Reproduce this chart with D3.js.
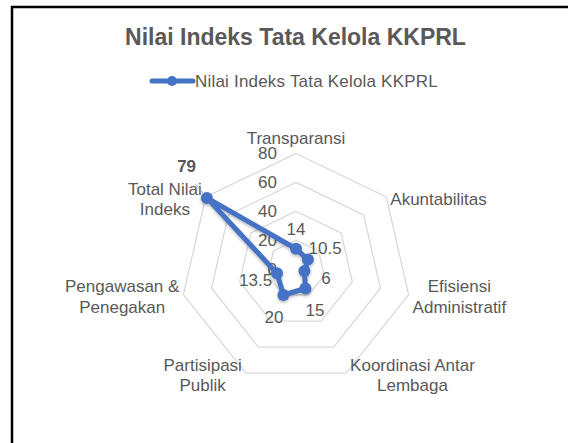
<!DOCTYPE html>
<html>
<head>
<meta charset="utf-8">
<script src="https://cdn.jsdelivr.net/npm/d3@7"></script>
<style>
  html, body { margin: 0; padding: 0; background: #fff; }
  svg text { font-family: "Liberation Sans", Arial, sans-serif; fill: #595959; }
</style>
</head>
<body>
<div id="chart"></div>
<script>
const chartTitle = "Nilai Indeks Tata Kelola KKPRL";
const seriesName = "Nilai Indeks Tata Kelola KKPRL";
const categories = [
  "Transparansi",
  "Akuntabilitas",
  "Efisiensi\nAdministratif",
  "Koordinasi Antar\nLembaga",
  "Partisipasi\nPublik",
  "Pengawasan &\nPenegakan",
  "Total Nilai\nIndeks"
];
const values = [14, 10.5, 6, 15, 20, 13.5, 79];
const tickValues = [0, 20, 40, 60, 80];

const width = 568, height = 443;
const cx = 296, cy = 269, R = 115.5;
const blue = "#4472C4";
const grid = "#d9d9d9";
const fontSize = 17;
const lineH = 20.5;

const svg = d3.select('#chart')
  .append('svg')
  .attr('width', width)
  .attr('height', height);

svg.append('rect')
  .attr('width', width).attr('height', height)
  .attr('fill', '#fff');

// frame around the chart (runs off right / bottom edge)
svg.append('rect')
  .attr('x', 12).attr('y', 7)
  .attr('width', 700).attr('height', 600)
  .attr('fill', 'none')
  .attr('stroke', '#000')
  .attr('stroke-width', 2.5);

const defs = svg.append('defs');
const shadow = defs.append('filter')
  .attr('id', 'shadow')
  .attr('x', '-20%').attr('y', '-20%')
  .attr('width', '140%').attr('height', '140%');
shadow.append('feDropShadow')
  .attr('dx', 0).attr('dy', 1.5)
  .attr('stdDeviation', 1.6)
  .attr('flood-color', '#000')
  .attr('flood-opacity', 0.3);

// title
svg.append('text')
  .attr('x', 295.5).attr('y', 45)
  .attr('text-anchor', 'middle')
  .style('font-size', '23px')
  .style('font-weight', 'bold')
  .text(chartTitle);

// legend
const legend = svg.append('g');
legend.append('line')
  .attr('x1', 152).attr('x2', 193)
  .attr('y1', 81).attr('y2', 81)
  .attr('stroke', blue).attr('stroke-width', 5)
  .attr('stroke-linecap', 'round');
legend.append('circle')
  .attr('cx', 172).attr('cy', 81).attr('r', 5)
  .attr('fill', blue);
legend.append('text')
  .attr('x', 195).attr('y', 87)
  .style('font-size', fontSize + 'px')
  .style('letter-spacing', '0.2px')
  .text(seriesName);

const n = categories.length;
const rScale = d3.scaleLinear().domain([0, 80]).range([0, R]);
const angle = i => i * 2 * Math.PI / n;
const pt = (i, v) => [cx + rScale(v) * Math.sin(angle(i)), cy - rScale(v) * Math.cos(angle(i))];

const plot = svg.append('g');

// rings
const ring = d3.lineRadial()
  .angle((d, i) => angle(i))
  .radius(d => rScale(d))
  .curve(d3.curveLinearClosed);

plot.selectAll('path.ring')
  .data(tickValues.filter(t => t > 0))
  .join('path')
  .attr('class', 'ring')
  .attr('transform', `translate(${cx},${cy})`)
  .attr('d', t => ring(categories.map(() => t)))
  .attr('fill', 'none')
  .attr('stroke', grid)
  .attr('stroke-width', 1.3);

// tick labels along the first axis
plot.selectAll('text.tick')
  .data(tickValues)
  .join('text')
  .attr('class', 'tick')
  .attr('x', cx - 19)
  .attr('y', t => cy - rScale(t))
  .attr('dy', '0.35em')
  .attr('text-anchor', 'end')
  .style('font-size', fontSize + 'px')
  .text(t => t);

// category labels
categories.forEach((c, i) => {
  const lines = c.split('\n');
  const [vx, vy] = pt(i, 80);
  const s = Math.sin(angle(i));
  const t = plot.append('text').style('font-size', fontSize + 'px');
  const spans = lines.map(l => t.append('tspan').text(l));
  const w = d3.max(spans, sp => sp.node().getComputedTextLength());
  let mid;
  if (Math.abs(s) < 0.1) mid = vx;
  else if (s > 0) mid = vx + 4 + w / 2;
  else mid = vx - 4 - w / 2;
  let firstBase;
  if (Math.abs(s) < 0.1) firstBase = vy - 10 - (lines.length - 1) * lineH;
  else firstBase = vy + 2 - (lines.length - 1) * lineH / 2 + fontSize * 0.35;
  spans.forEach((sp, k) => {
    sp.attr('x', mid).attr('y', firstBase + k * lineH).attr('text-anchor', 'middle');
  });
});

// series
const dataLine = d3.lineRadial()
  .angle((d, i) => angle(i))
  .radius(d => rScale(d))
  .curve(d3.curveLinearClosed);

const series = plot.append('g')
  .attr('filter', 'url(#shadow)');

series.append('path')
  .attr('transform', `translate(${cx},${cy})`)
  .attr('d', dataLine(values))
  .attr('fill', 'none')
  .attr('stroke', blue)
  .attr('stroke-width', 5)
  .attr('stroke-linejoin', 'round');

series.selectAll('circle')
  .data(values)
  .join('circle')
  .attr('cx', (d, i) => pt(i, d)[0])
  .attr('cy', (d, i) => pt(i, d)[1])
  .attr('r', 6)
  .attr('fill', blue);

// data labels, pushed out along each axis
const maxVal = d3.max(values);
values.forEach((v, i) => {
  const [px, py] = pt(i, v);
  const a = angle(i);
  let lx = px + 22 * Math.sin(a);
  let ly = py - 22 * Math.cos(a);
  const isMax = v === maxVal;
  if (isMax) {
    // the total label sits above its axis label, with a leader line
    lx -= 3; ly -= 18;
    plot.append('line')
      .attr('x1', lx + 9).attr('y1', ly + 18)
      .attr('x2', px - 3).attr('y2', py - 4)
      .attr('stroke', '#a6a6a6')
      .attr('stroke-width', 1);
  }
  plot.append('text')
    .attr('x', lx).attr('y', ly + (isMax ? 0 : 2))
    .attr('dy', '0.35em')
    .attr('text-anchor', 'middle')
    .style('font-size', fontSize + 'px')
    .style('font-weight', isMax ? 'bold' : 'normal')
    .text(v);
});
</script>
</body>
</html>
